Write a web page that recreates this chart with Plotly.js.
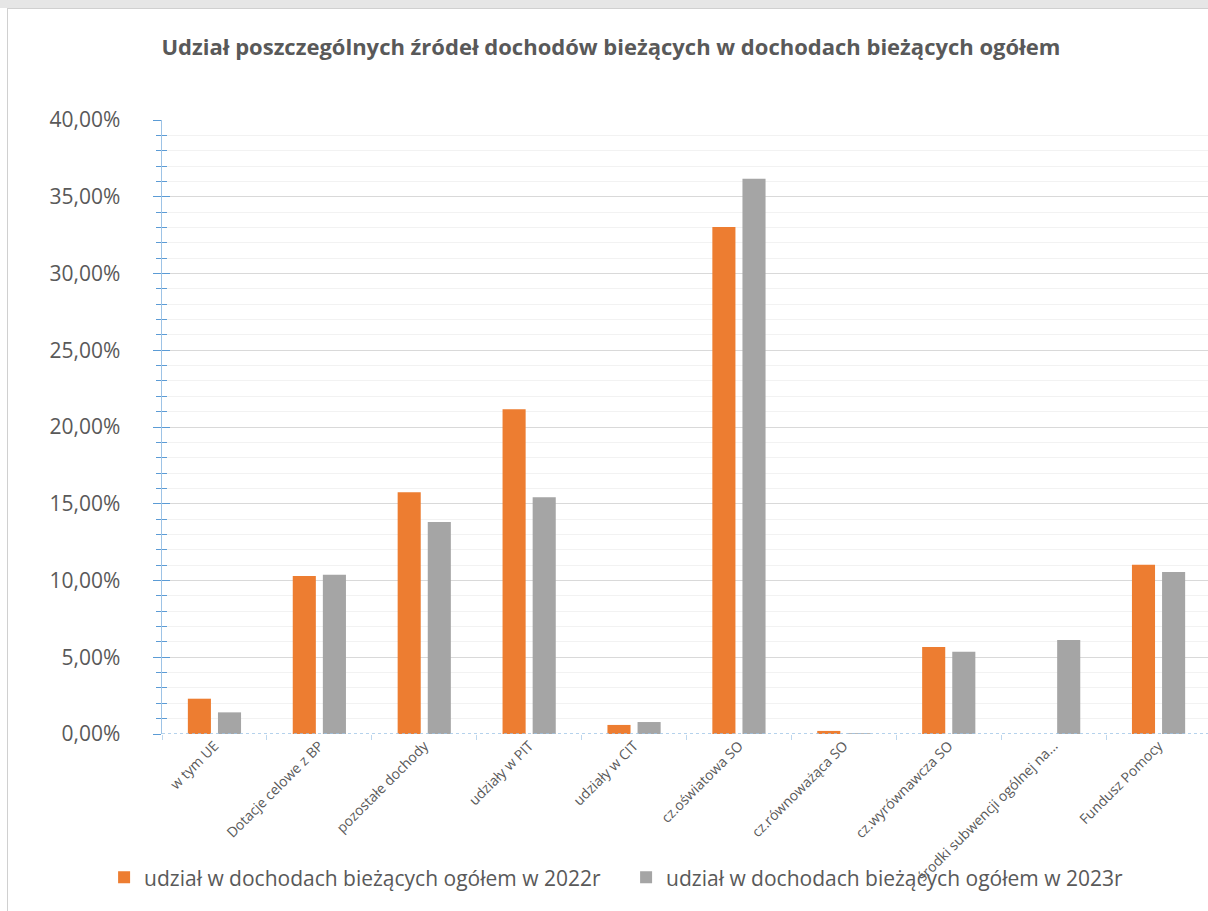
<!DOCTYPE html>
<html><head><meta charset="utf-8">
<script src="https://cdn.plot.ly/plotly-3.0.1.min.js"></script>
<style>
body{margin:0;background:#fff;}
#wrap{position:relative;width:1208px;height:911px;overflow:hidden;}
#chart{width:1211px;height:911px;}
#frame{position:absolute;left:0;top:0;width:1208px;height:8px;background:#e6e6e6;pointer-events:none;}
#frame2{position:absolute;left:7px;top:8px;width:1px;height:903px;background:#d0d0d0;pointer-events:none;}
#frame3{position:absolute;left:7px;top:8px;width:1201px;height:1px;background:#d0d0d0;pointer-events:none;}
</style>
</head><body>
<div id="wrap"><div id="chart"></div><div id="frame"></div><div id="frame2"></div><div id="frame3"></div></div>
<script>
const categories = ["w tym UE","Dotacje celowe z BP","pozostałe dochody","udziały w PIT","udziały w CIT","cz.oświatowa SO","cz.równoważąca SO","cz.wyrównawcza SO","środki subwencji ogólnej na...","Fundusz Pomocy"];
const share2022 = [0.0230,0.1029,0.1575,0.2115,0.0059,0.3303,0.0020,0.0567,0,0.1103];
const share2023 = [0.0141,0.1038,0.1381,0.1542,0.0078,0.3618,0.0005,0.0536,0.0612,0.1055];
const seriesNames = ["udział w dochodach bieżących ogółem w 2022r","udział w dochodach bieżących ogółem w 2023r"];
const titleText = "Udział poszczególnych źródeł dochodów bieżących w dochodach bieżących ogółem";

const txt = '#595959';
const fam = 'Open Sans, Noto Sans, sans-serif';

const traces = [
  {type:'bar', name:seriesNames[0], x:categories, y:share2022, marker:{color:'#ED7D31'}, hoverinfo:'skip'},
  {type:'bar', name:seriesNames[1], x:categories, y:share2023, marker:{color:'#A5A5A5'}, hoverinfo:'skip'},
  {type:'scatter', x:[], y:[], yaxis:'y2', showlegend:false, hoverinfo:'skip'}
];

const layout = {
  width:1211, height:911,
  margin:{l:162, r:0, t:120, b:177},
  paper_bgcolor:'#ffffff', plot_bgcolor:'#ffffff',
  separators:', ',
  barmode:'group', bargap:0.426, bargroupgap:0.233,
  title:{text:'<b>'+titleText+'</b>', font:{family:fam, size:22, color:txt}, xref:'container', x:0.5045, xanchor:'center', yref:'container', y:0.948, yanchor:'middle'},
  xaxis:{type:'category', tickangle:-45, tickfont:{family:fam, size:14, color:txt}, showgrid:false, zeroline:false, showline:false,
         tickson:'boundaries', ticks:'outside', ticklen:5, tickcolor:'#bdd7ee', tickwidth:1},
  yaxis:{range:[0,0.4], dtick:0.05, tickformat:'.2%', showgrid:true, gridcolor:'#d9d9d9', gridwidth:1, zeroline:false,
         showline:true, linecolor:'#9dc3e6', linewidth:1.5, ticks:'outside', ticklen:8, tickcolor:'#5b9bd5', tickwidth:1,
         ticklabelstandoff:28, tickfont:{family:fam, size:21, color:txt},
         minor:{dtick:0.01, showgrid:true, gridcolor:'#f2f2f2', gridwidth:1, ticks:'outside', ticklen:5, tickcolor:'#5b9bd5'}},
  yaxis2:{overlaying:'y', side:'left', range:[0,0.4], dtick:0.05, showgrid:false, zeroline:false, showline:false,
          showticklabels:false, ticks:'inside', ticklen:8, tickcolor:'#5b9bd5', tickwidth:1,
          minor:{dtick:0.01, ticks:'inside', ticklen:5, tickcolor:'#5b9bd5'}},
  shapes:[{type:'line', xref:'paper', yref:'y', x0:0, x1:1, y0:0, y1:0, line:{color:'#9dc3e6', width:1.5, dash:'dot'}, layer:'above'}],
  legend:{orientation:'h', x:-0.0552, xanchor:'left', y:-0.234, yanchor:'middle', bgcolor:'rgba(0,0,0,0)', font:{family:fam, size:21, color:txt}, entrywidth:477, itemclick:false},
  showlegend:true
};

Plotly.newPlot('chart', traces, layout, {staticPlot:true, displayModeBar:false});
</script>
</body></html>
